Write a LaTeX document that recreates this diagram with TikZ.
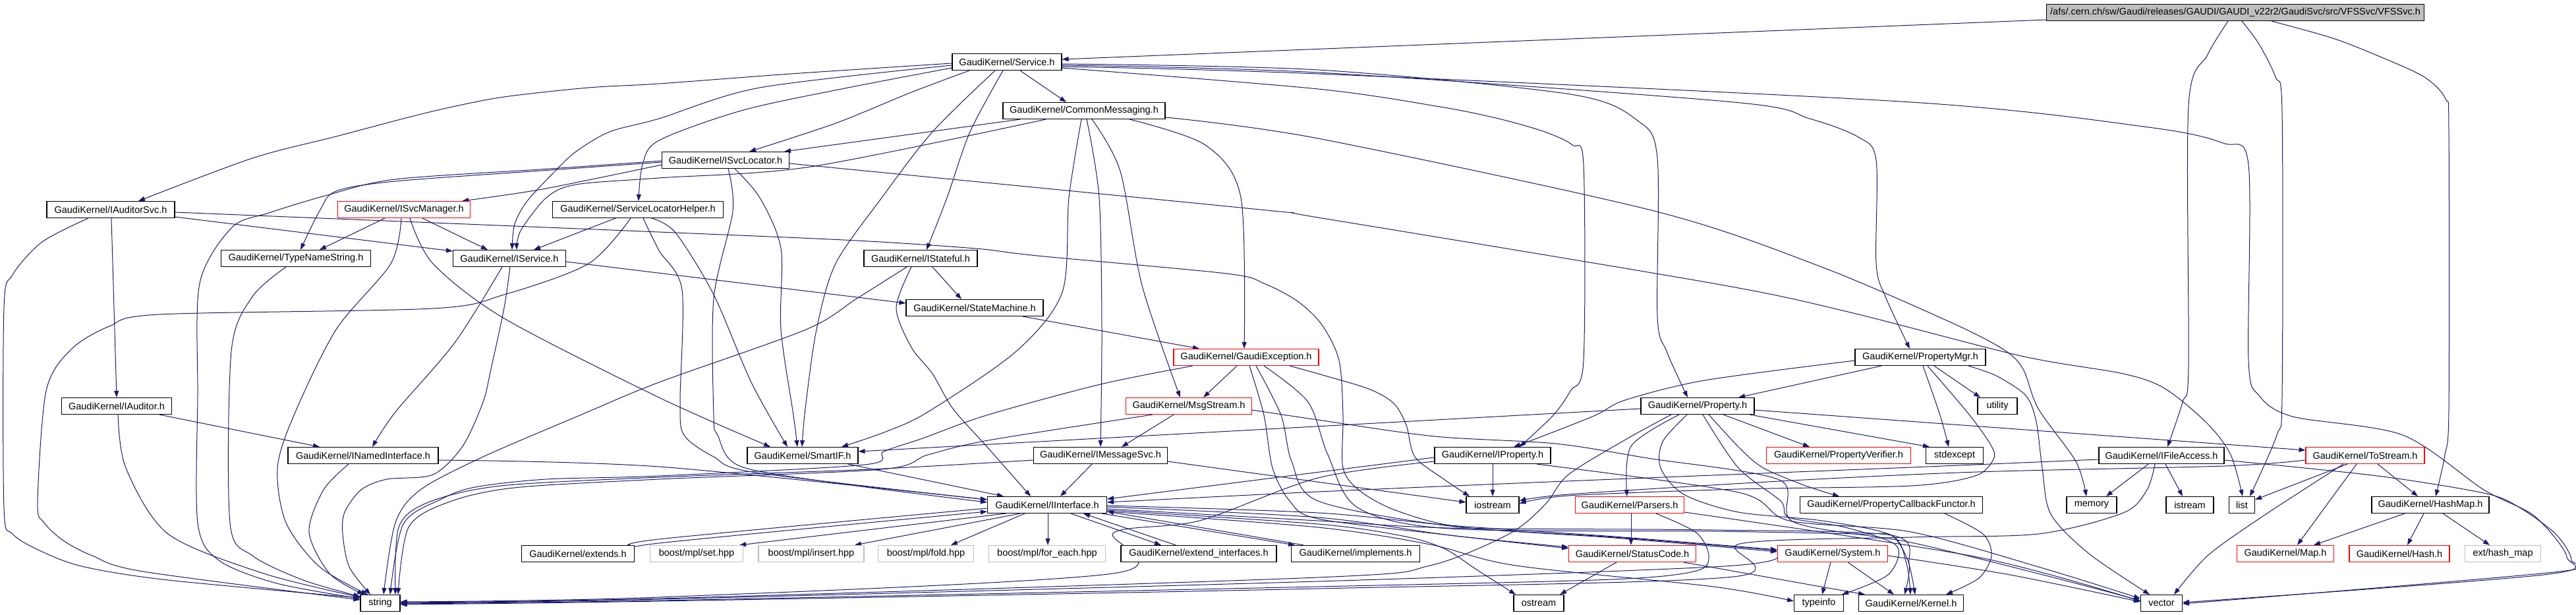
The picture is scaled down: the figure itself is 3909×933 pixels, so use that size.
\documentclass[tikz,border=0pt]{standalone}
\usepackage{fontspec}
\setmainfont{Liberation Sans}
\usetikzlibrary{arrows.meta,backgrounds}
\definecolor{navyedge}{RGB}{25,25,112}
\definecolor{vfsgrey}{RGB}{191,191,191}
\definecolor{boxgrey}{RGB}{191,191,191}
\newcommand{\gedge}[1]{\draw[gedge] plot[smooth,tension=0.5] coordinates {#1};}
\begin{document}
\begin{tikzpicture}[x=1pt,y=-1pt,
  nd/.style={draw=black, fill=white, line width=1.1pt, inner sep=0pt, minimum height=25pt, font=\fontsize{14.5}{17}\selectfont, text=black},
  rednd/.style={nd, draw=red},
  greynd/.style={nd, draw=boxgrey},
  gedge/.style={draw=navyedge, line width=1pt, -{Triangle[length=10pt,width=7pt]}}]
\useasboundingbox (0,0) rectangle (3909,933);
% ---------- nodes ----------
\node[nd, fill=vfsgrey, minimum width=573pt] (vfs) at (3392,19) {/afs/.cern.ch/sw/Gaudi/releases/GAUDI/GAUDI\_v22r2/GaudiSvc/src/VFSSvc/VFSSvc.h};
\node[nd, minimum width=166pt] (svc) at (1528,94) {GaudiKernel/Service.h};
\node[nd, minimum width=246pt] (cm) at (1645,168) {GaudiKernel/CommonMessaging.h};
\node[nd, minimum width=193pt] (isl) at (1101,243) {GaudiKernel/ISvcLocator.h};
\node[nd, minimum width=194pt] (ias) at (168,318) {GaudiKernel/IAuditorSvc.h};
\node[rednd, minimum width=201pt] (ism) at (613,318) {GaudiKernel/ISvcManager.h};
\node[nd, minimum width=259pt] (slh) at (968,318) {GaudiKernel/ServiceLocatorHelper.h};
\node[nd, minimum width=227pt] (tns) at (449,392) {GaudiKernel/TypeNameString.h};
\node[nd, minimum width=171pt] (is) at (773,392) {GaudiKernel/IService.h};
\node[nd, minimum width=172pt] (ist) at (1397,392) {GaudiKernel/IStateful.h};
\node[nd, minimum width=208pt] (sm) at (1479,467) {GaudiKernel/StateMachine.h};
\node[rednd, minimum width=220pt] (ge) at (1891,542) {GaudiKernel/GaudiException.h};
\node[nd, minimum width=198pt] (pm) at (2914,542) {GaudiKernel/PropertyMgr.h};
\node[nd, minimum width=167pt] (ia) at (177,616) {GaudiKernel/IAuditor.h};
\node[rednd, minimum width=191pt] (ms) at (1804,616) {GaudiKernel/MsgStream.h};
\node[nd, minimum width=172pt] (prop) at (2576,616) {GaudiKernel/Property.h};
\node[nd, minimum width=60pt] (util) at (3031,616) {utility};
\node[nd, minimum width=228pt] (ini) at (551,691) {GaudiKernel/INamedInterface.h};
\node[nd, minimum width=168pt] (sif) at (1218,691) {GaudiKernel/SmartIF.h};
\node[nd, minimum width=203pt] (imsg) at (1670,691) {GaudiKernel/IMessageSvc.h};
\node[nd, minimum width=176pt] (ip) at (2265,691) {GaudiKernel/IProperty.h};
\node[rednd, minimum width=219pt] (pv) at (2790,691) {GaudiKernel/PropertyVerifier.h};
\node[nd, minimum width=87pt] (stdx) at (2966,691) {stdexcept};
\node[nd, minimum width=190pt] (ifa) at (3280,691) {GaudiKernel/IFileAccess.h};
\node[rednd, minimum width=180pt] (ts) at (3589,691) {GaudiKernel/ToStream.h};
\node[nd, minimum width=181pt] (ii) at (1589,766) {GaudiKernel/IInterface.h};
\node[nd, minimum width=80pt] (ios) at (2265,766) {iostream};
\node[rednd, minimum width=165pt] (pars) at (2473,766) {GaudiKernel/Parsers.h};
\node[nd, minimum width=277pt] (pcf) at (2870,766) {GaudiKernel/PropertyCallbackFunctor.h};
\node[nd, minimum width=76pt] (mem) at (3174,766) {memory};
\node[nd, minimum width=72pt] (istr) at (3323,766) {istream};
\node[nd, minimum width=39pt] (lst) at (3402,766) {list};
\node[nd, minimum width=178pt] (hm) at (3688,766) {GaudiKernel/HashMap.h};
\node[nd, minimum width=171pt] (ext) at (877,840) {GaudiKernel/extends.h};
\node[greynd, minimum width=141pt] (set) at (1057,840) {boost/mpl/set.hpp};
\node[greynd, minimum width=160pt] (ins) at (1231,840) {boost/mpl/insert.hpp};
\node[greynd, minimum width=145pt] (fold) at (1405,840) {boost/mpl/fold.hpp};
\node[greynd, minimum width=177pt] (fe) at (1589,840) {boost/mpl/for\_each.hpp};
\node[nd, minimum width=236pt] (ei) at (1819,840) {GaudiKernel/extend\_interfaces.h};
\node[nd, minimum width=195pt] (impl) at (2057,840) {GaudiKernel/implements.h};
\node[rednd, minimum width=193pt] (sc) at (2477,840) {GaudiKernel/StatusCode.h};
\node[rednd, minimum width=167pt] (sys) at (2781,840) {GaudiKernel/System.h};
\node[rednd, minimum width=147pt] (map) at (3468,840) {GaudiKernel/Map.h};
\node[rednd, minimum width=152pt] (hash) at (3641,840) {GaudiKernel/Hash.h};
\node[greynd, minimum width=115pt] (ehm) at (3798,840) {ext/hash\_map};
\node[nd, minimum width=60pt] (str) at (577,915) {string};
\node[nd, minimum width=76pt] (ost) at (2335,915) {ostream};
\node[nd, minimum width=75pt] (ti) at (2760,915) {typeinfo};
\node[nd, minimum width=159pt] (kern) at (2900,915) {GaudiKernel/Kernel.h};
\node[nd, minimum width=63pt] (vec) at (3280,915) {vector};
% ---------- edges ----------
\begin{scope}[on background layer]
% VFSSvc
\gedge{(vfs.west |- 0,30) (svc.east |- 0,90)}
\gedge{(vfs.south -| 3381,0) (3350,83) (3321,160) (3321,557) (3312,610) (ifa.north -| 3289,0)}
\gedge{(vfs.south -| 3402,0) (3428,67) (3453,117) (3463,170) (3463,600) (3455,660) (lst.north -| 3414,0)}
\gedge{(vfs.south -| 3447,0) (3540,58) (3614,87) (3679,117) (3711,150) (3716,200) (3716,620) (3710,690) (hm.north -| 3696,0)}
% Service
\gedge{(svc.west |- 0,96) (1200,112) (1000,127) (893,133) (765,147) (682,163) (612,180) (510,207) (383,240) (ias.north -| 210,0)}
\gedge{(svc.west |- 0,99) (1153,133) (1000,180) (925,200) (874,230) (842,260) (800,305) (781,340) (is.north -| 777,0)}
\gedge{(svc.west |- 0,103) (1287,133) (1128,167) (1000,213) (975,250) (slh.north -| 969,0)}
\gedge{(svc.south -| 1471,0) (1383,140) (1268,187) (isl.north -| 1137,0)}
\gedge{(svc.south -| 1548,0) (cm.north -| 1618,0)}
\gedge{(svc.south -| 1510,0) (1415,200) (1338,300) (1268,400) (1239,500) (1222,620) (sif.north -| 1217,0)}
\gedge{(svc.south -| 1522,0) (1472,200) (1437,300) (ist.north -| 1406,0)}
\gedge{(svc.east |- 0,97) (2000,106) (2383,143) (2485,183) (2515,240) (2515,480) (2529,533) (prop.north -| 2561,0)}
\gedge{(svc.east |- 0,99) (2000,110) (2631,155) (2746,180) (2820,208) (2847,243) (2847,400) (2861,450) (pm.north -| 2898,0)}
\gedge{(svc.east |- 0,101) (2000,112) (2900,155) (3260,193) (3373,217) (3412,250) (3412,547) (3428,600) (3479,632) (3646,660) (3769,743) (3846,783) (3895,845) (3860,872) (vec.east |- 0,914)}
\gedge{(svc.east |- 0,103) (2000,135) (2185,162) (2274,180) (2344,200) (2386,220) (2403,250) (2403,547) (2383,593) (2357,630) (ip.north -| 2306,0)}
% CommonMessaging
\gedge{(cm.south -| 1548,0) (isl.north -| 1190,0)}
\gedge{(cm.south -| 1587,0) (1230,253) (1000,270) (874,280) (829,300) (790,350) (is.north -| 784,0)}
\gedge{(cm.south -| 1641,0) (1622,300) (1612,443) (1542,533) (1408,625) (1344,655) (sif.north -| 1277,0)}
\gedge{(cm.south -| 1649,0) (1668,300) (1672,500) (imsg.north -| 1670,0)}
\gedge{(cm.south -| 1657,0) (1700,260) (1733,433) (ms.north -| 1791,0)}
\gedge{(cm.south -| 1714,0) (1829,220) (1883,300) (ge.north -| 1888,0)}
\gedge{(cm.east |- 0,178) (2000,210) (2510,320) (2759,403) (2958,488) (3040,530) (3070,560) (3093,620) (3150,700) (mem.north -| 3166,0)}
% ISvcLocator
\gedge{(isl.west |- 0,250) (823,287) (ism.north -| 701,0)}
\gedge{(isl.west |- 0,246) (835,258) (600,275) (510,290) (485,320) (tns.north -| 456,0)}
\gedge{(isl.west |- 0,244) (835,256) (600,272) (497,296) (408,323) (352,345) (303,430) (300,600) (300,793) (332,850) (420,885) (str.west |- 0,908)}
\gedge{(isl.south -| 1105,0) (1112,320) (1083,453) (1083,630) (1089,660) (1125,708) (1300,737) (ii.west |- 0,762)}
\gedge{(isl.south -| 1115,0) (1153,300) (1185,377) (1185,500) (1204,630) (sif.north -| 1210,0)}
\gedge{(isl.east |- 0,248) (1912,318) (2000,330) (2600,430) (2804,473) (3067,540) (3222,567) (3286,590) (3350,643) (3385,690) (lst.north -| 3403,0)}
% IAuditorSvc
\gedge{(ias.east |- 0,329) (is.west |- 0,381)}
\gedge{(ias.east |- 0,322) (1000,352) (1300,365) (1480,377) (1574,388) (1861,415) (1918,430) (1969,457) (2006,493) (2032,547) (2038,630) (2038,710) (2064,745) (2120,775) (2220,800) (2450,815) (sys.west |- 0,835)}
\gedge{(ias.south -| 169,0) (ia.north -| 177,0)}
\gedge{(ias.south -| 134,0) (64,367) (19,417) (6,467) (6,770) (19,810) (64,837) (128,860) (255,880) (str.west |- 0,907)}
% ISvcManager
\gedge{(ism.south -| 584,0) (tns.north -| 485,0)}
\gedge{(ism.south -| 641,0) (is.north -| 740,0)}
\gedge{(ism.south -| 609,0) (593,400) (510,500) (446,630) (421,710) (434,793) (485,860) (str.north -| 558,0)}
\gedge{(ism.south -| 622,0) (657,400) (765,483) (1000,603) (sif.north -| 1169,0)}
% ServiceLocatorHelper
\gedge{(slh.south -| 934,0) (is.north -| 810,0)}
\gedge{(slh.south -| 957,0) (893,400) (765,447) (657,468) (242,477) (166,495) (108,530) (70,593) (57,763) (67,793) (96,820) (140,843) (217,867) (str.west |- 0,910)}
\gedge{(slh.south -| 976,0) (1000,380) (1035,440) (1032,610) (1038,660) (1083,693) (1147,717) (ii.west |- 0,758)}
\gedge{(slh.south -| 989,0) (1025,353) (1083,447) (1140,580) (sif.north -| 1195,0)}
% TypeNameString
\gedge{(tns.south -| 434,0) (383,450) (351,533) (349,793) (383,843) (460,880) (str.west |- 0,905)}
% IService
\gedge{(is.south -| 762,0) (690,520) (600,625) (ini.north -| 565,0)}
\gedge{(is.south -| 774,0) (765,467) (745,560) (733,610) (702,677) (657,720) (587,727) (548,743) (523,777) (520,810) (530,860) (str.north -| 562,0)}
\gedge{(is.east |- 0,397) (sm.west |- 0,460)}
% IStateful
\gedge{(ist.south -| 1415,0) (sm.north -| 1459,0)}
\gedge{(ist.south -| 1383,0) (1360,467) (1383,527) (1415,567) (1446,620) (1497,677) (ii.north -| 1564,0)}
\gedge{(ist.south -| 1376,0) (1300,453) (1223,500) (1000,580) (880,630) (733,693) (638,743) (600,793) (str.north -| 582,0)}
% StateMachine
\gedge{(sm.south -| 1552,0) (ge.north -| 1820,0)}
% GaudiException
\gedge{(ge.south -| 1877,0) (ms.north -| 1826,0)}
\gedge{(ge.south -| 1810,0) (1670,583) (1497,630) (1400,665) (1341,685) (1312,705) (1000,722) (829,727) (721,739) (670,757) (612,795) (str.north -| 592,0)}
\gedge{(ge.south -| 1896,0) (1918,630) (1931,710) (1957,760) (2000,787) (2200,812) (sc.west |- 0,832)}
\gedge{(ge.south -| 1906,0) (1944,630) (1960,700) (2000,760) (2200,798) (2450,816) (sys.west |- 0,837)}
\gedge{(ge.south -| 1918,0) (1985,610) (2015,690) (2060,770) (2200,802) (2600,806) (2820,810) (2870,812) (2895,850) (kern.north -| 2906,0)}
\gedge{(ge.south -| 1957,0) (2000,567) (2077,590) (2115,612) (2134,645) (2147,693) (2191,727) (ios.north -| 2230,0)}
% PropertyMgr
\gedge{(pm.south -| 2855,0) (prop.north -| 2638,0)}
\gedge{(pm.west |- 0,547) (2587,577) (2466,607) (2421,630) (2340,662) (ip.north -| 2297,0)}
\gedge{(pm.south -| 2935,0) (util.north -| 3005,0)}
\gedge{(pm.south -| 2918,0) (2944,630) (stdx.north -| 2957,0)}
\gedge{(pm.south -| 2925,0) (2989,630) (3022,677) (3025,697) (2997,722) (2900,737) (2638,742) (2380,752) (ios.east |- 0,764)}
\gedge{(pm.south -| 2987,0) (3029,570) (3074,600) (3090,640) (3099,710) (3112,780) (3170,840) (vec.north -| 3262,0)}
% Property
\gedge{(prop.west |- 0,620) (sif.east |- 0,685)}
\gedge{(prop.south -| 2536,0) (2470,665) (2380,720) (2345,765) (2290,810) (2170,858) (2000,876) (1000,908) (str.east |- 0,914)}
\gedge{(prop.south -| 2548,0) (2475,677) (pars.north -| 2469,0)}
\gedge{(prop.south -| 2615,0) (pv.north -| 2746,0)}
\gedge{(prop.south -| 2593,0) (2640,680) (2676,710) (2740,737) (pcf.north -| 2791,0)}
\gedge{(prop.south -| 2655,0) (stdx.north -| 2928,0)}
\gedge{(prop.east |- 0,622) (ts.west |- 0,683)}
\gedge{(prop.south -| 2560,0) (2523,670) (2520,710) (2555,750) (2638,777) (2765,790) (2870,812) (2893,855) (kern.north -| 2899,0)}
\gedge{(prop.south -| 2584,0) (2638,710) (2702,760) (2715,785) (2800,800) (2878,828) (2865,872) (ti.north -| 2795,0)}
% IProperty
\gedge{(ip.south -| 2265,0) (ios.north -| 2265,0)}
\gedge{(ip.west |- 0,694) (ii.east |- 0,757)}
\gedge{(ip.west |- 0,700) (2000,725) (1820,790) (1690,808) (1689,870) (1000,906) (str.east |- 0,913)}
\gedge{(ip.south -| 2332,0) (2638,747) (2715,790) (2900,807) (3100,862) (vec.west |- 0,908)}
% IMessageSvc
\gedge{(imsg.south -| 1657,0) (ii.north -| 1609,0)}
\gedge{(imsg.west |- 0,698) (1320,712) (1000,724) (760,737) (650,762) (605,800) (str.north -| 600,0)}
\gedge{(imsg.east |- 0,700) (ios.west |- 0,762)}
% MsgStream
\gedge{(ms.south -| 1781,0) (imsg.north -| 1702,0)}
\gedge{(ms.south -| 1749,0) (1500,668) (1408,690) (1338,712) (1000,727) (780,740) (680,762) (620,800) (str.north -| 604,0)}
\gedge{(ms.east |- 0,622) (2000,637) (2177,662) (2360,673) (2500,695) (2700,728) (2722,792) (2900,823) (3100,872) (vec.west |- 0,911)}
% INamedInterface, IAuditor, SmartIF
\gedge{(ini.east |- 0,698) (1000,708) (ii.west |- 0,758)}
\gedge{(ini.south -| 529,0) (491,743) (469,807) (500,870) (str.north -| 552,0)}
\gedge{(ia.south -| 242,0) (ini.north -| 485,0)}
\gedge{(ia.south -| 179,0) (191,710) (255,810) (400,870) (str.west |- 0,906)}
\gedge{(sif.south -| 1287,0) (ii.north -| 1523,0)}
% IInterface
\gedge{(ii.west |- 0,771) (1000,818) (ext.east |- 0,830)}
\gedge{(ext.east |- 0,836) (1000,824) (ii.west |- 0,776)}
\gedge{(ii.south -| 1526,0) (set.north -| 1122,0)}
\gedge{(ii.south -| 1548,0) (ins.north -| 1297,0)}
\gedge{(ii.south -| 1555,0) (fold.north -| 1443,0)}
\gedge{(ii.south -| 1590,0) (fe.north -| 1590,0)}
\gedge{(ii.south -| 1625,0) (ei.north -| 1762,0)}
\gedge{(ei.north -| 1784,0) (ii.south -| 1644,0)}
\gedge{(ii.south -| 1672,0) (impl.north -| 1965,0)}
\gedge{(impl.north -| 1978,0) (ii.east |- 0,776)}
\gedge{(ii.east |- 0,769) (2000,785) (2200,812) (sc.west |- 0,830)}
\gedge{(ii.east |- 0,767) (2000,778) (2200,797) (2450,814) (sys.west |- 0,834)}
\gedge{(ii.east |- 0,772) (2000,790) (2200,801) (2600,804) (2870,812) (2897,855) (kern.north -| 2890,0)}
\gedge{(ii.east |- 0,774) (2000,795) (2128,813) (2191,832) (2242,865) (ost.north -| 2300,0)}
\gedge{(ii.east |- 0,776) (2000,800) (2170,826) (2300,858) (2600,890) (ti.west |- 0,912)}
% Parsers
\gedge{(pars.south -| 2475,0) (sc.north -| 2475,0)}
\gedge{(pars.south -| 2513,0) (2574,808) (2593,843) (2574,866) (2446,879) (2000,890) (1000,911) (str.east |- 0,916)}
\gedge{(pars.east |- 0,777) (3000,845) (vec.west |- 0,912)}
% StatusCode, System
\gedge{(sc.south -| 2453,0) (ost.north -| 2367,0)}
\gedge{(sc.south -| 2555,0) (kern.north -| 2830,0)}
\gedge{(sys.south -| 2778,0) (ti.north -| 2765,0)}
\gedge{(sys.south -| 2804,0) (kern.north -| 2874,0)}
\gedge{(sys.west |- 0,846) (2600,860) (2000,882) (1000,909) (str.east |- 0,915)}
\gedge{(sys.east |- 0,843) (3050,872) (vec.west |- 0,913)}
% ToStream
\gedge{(ts.south -| 3562,0) (lst.east |- 0,758)}
\gedge{(ts.south -| 3576,0) (map.north -| 3486,0)}
\gedge{(ts.south -| 3556,0) (3434,783) (3350,843) (vec.north -| 3299,0)}
\gedge{(ts.south -| 3608,0) (hm.north -| 3669,0)}
\gedge{(ts.west |- 0,698) (3375,707) (3000,716) (2700,730) (2380,750) (ios.east |- 0,760)}
% HashMap
\gedge{(hm.south -| 3649,0) (map.north -| 3511,0)}
\gedge{(hm.south -| 3678,0) (hash.north -| 3653,0)}
\gedge{(hm.south -| 3707,0) (ehm.north -| 3778,0)}
% PropertyCallbackFunctor
\gedge{(pcf.south -| 2951,0) (3009,810) (3022,843) (3003,877) (kern.north -| 2953,0)}
% IFileAccess
\gedge{(ifa.south -| 3260,0) (mem.north -| 3196,0)}
\gedge{(ifa.south -| 3286,0) (istr.north -| 3312,0)}
\gedge{(ifa.east |- 0,698) (3608,722) (3769,748) (3820,768) (3878,810) (3902,850) (3876,868) (vec.east |- 0,916)}
\gedge{(ifa.west |- 0,697) (2900,709) (2400,729) (2000,746) (ii.east |- 0,762)}
\gedge{(ifa.south -| 3270,0) (3258,743) (3222,778) (3093,810) (2900,815) (2640,825) (2630,875) (2000,893) (1000,912) (str.east |- 0,917)}
\end{scope}
\end{tikzpicture}
\end{document}
